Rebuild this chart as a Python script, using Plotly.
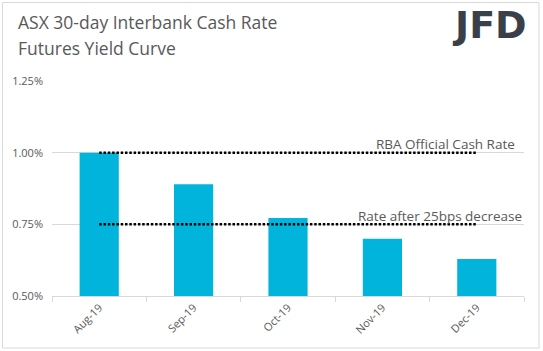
import plotly.graph_objects as go

categories = ["Aug-19", "Sep-19", "Oct-19", "Nov-19", "Dec-19"]
futures_yield = [1.00, 0.89, 0.772, 0.70, 0.629]
official_rate = [1.00] * 5
cut_rate = [0.75] * 5
y_ticks = [0.50, 0.75, 1.00, 1.25]
y_tick_labels = ["0.50%", "0.75%", "1.00%", "1.25%"]

W, H = 543, 351
L, R, T, B = 52, 19, 81, 55
pw, ph = W - L - R, H - T - B

def px(x):
    return (x - L) / pw

def py(y):
    return (H - B - y) / ph

gray = "#595959"
fig = go.Figure()
fig.add_trace(go.Bar(x=categories, y=futures_yield, marker_color="#00B4DC",
                     marker_line_width=0, base=0))
fig.add_trace(go.Scatter(x=categories, y=official_rate, mode="lines",
                         line=dict(color="black", width=2.5, dash="2.5px,1.8px")))
fig.add_trace(go.Scatter(x=categories, y=cut_rate, mode="lines",
                         line=dict(color="black", width=2.5, dash="2.5px,1.8px")))

fig.update_layout(
    width=W, height=H, margin=dict(l=L, r=R, t=T, b=B),
    paper_bgcolor="white", plot_bgcolor="white", showlegend=False,
    bargap=0.585,
    font=dict(family="Open Sans, Calibri, sans-serif", color=gray),
    xaxis=dict(type="category", tickangle=-45, tickfont=dict(size=11, color=gray),
               showline=True, linecolor="#d9d9d9", linewidth=1,
               ticks="outside", ticklen=5, tickcolor="#d9d9d9",
               tickson="boundaries", showgrid=False),
    yaxis=dict(range=[0.5, 1.25], tickvals=y_ticks, ticktext=y_tick_labels,
               tickfont=dict(size=11, color=gray), showgrid=True,
               gridcolor="#d9d9d9", gridwidth=1, zeroline=False,
               ticks="", ticklabelstandoff=8),
)

fig.add_annotation(x=px(16), y=py(22), xref="paper", yref="paper",
                   xanchor="left", yanchor="middle", showarrow=False,
                   text="ASX 30-day Interbank Cash Rate",
                   font=dict(size=17.5, color=gray))
fig.add_annotation(x=px(16), y=py(48), xref="paper", yref="paper",
                   xanchor="left", yanchor="middle", showarrow=False,
                   text="Futures Yield Curve",
                   font=dict(size=17.5, color=gray))
fig.add_annotation(x=px(529), y=py(25), xref="paper", yref="paper",
                   xanchor="right", yanchor="middle", showarrow=False,
                   text="<b>JFD</b>",
                   font=dict(size=38, color="#3a4049", family="Arial Black, DejaVu Sans, sans-serif"))
fig.add_annotation(x=px(517), y=py(144), xref="paper", yref="paper",
                   xanchor="right", yanchor="middle", showarrow=False,
                   text="RBA Official Cash Rate",
                   font=dict(size=13.5, color=gray))
fig.add_annotation(x=px(524), y=py(216), xref="paper", yref="paper",
                   xanchor="right", yanchor="middle", showarrow=False,
                   text="Rate after 25bps decrease",
                   font=dict(size=13.5, color=gray))

fig.add_shape(type="rect", xref="paper", yref="paper",
              x0=px(2.5), x1=px(539), y0=py(348), y1=py(2.5),
              line=dict(color="#d9d9d9", width=1), fillcolor="rgba(0,0,0,0)")

fig.write_html("out.html")
